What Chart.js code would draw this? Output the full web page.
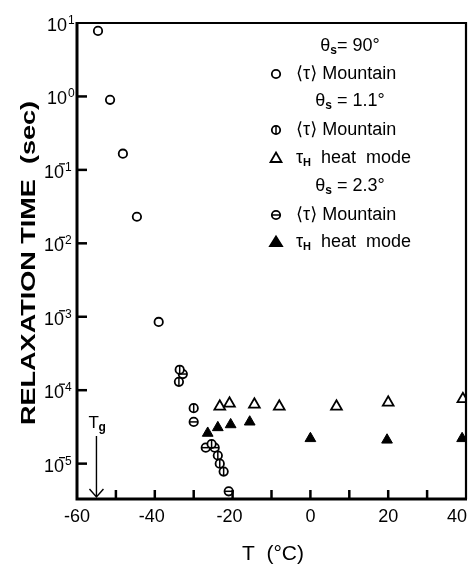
<!DOCTYPE html>
<html>
<head>
<meta charset="utf-8">
<title>Relaxation time vs T</title>
<script src="https://cdn.jsdelivr.net/npm/chart.js"></script>
<style>
  body { margin: 0; background: #fff; }
  #chart { display: block; }
</style>
</head>
<body>
<canvas id="chart" width="474" height="564"></canvas>
<script>
// theta_s = 90 deg, <tau> Mountain
var temp90 = [-54.6, -51.5, -48.2, -44.6, -39.0];
var tau90 = [7.8, 0.9, 0.166, 0.023, 8.5e-4];

// theta_s = 1.1 deg, <tau> Mountain
var temp11 = [-33.6, -33.8, -30.0, -25.4, -23.8, -23.3, -22.3];
var tau11 = [1.9e-4, 1.3e-4, 5.7e-5, 1.85e-5, 1.29e-5, 1.0e-5, 7.8e-6];
// theta_s = 1.1 deg, tau_H heat mode
var temp11H = [-23.3, -20.8, -14.4, -8.0, 6.7, 20.0, 39.2];
var tau11H = [6.0e-5, 6.6e-5, 6.4e-5, 6.0e-5, 6.0e-5, 6.8e-5, 7.6e-5];

// theta_s = 2.3 deg, <tau> Mountain
var temp23 = [-32.8, -30.0, -26.9, -24.6, -21.0];
var tau23 = [1.66e-4, 3.7e-5, 1.65e-5, 1.65e-5, 4.2e-6];
// theta_s = 2.3 deg, tau_H heat mode
var temp23H = [-26.4, -23.8, -20.5, -15.6, 0.0, 19.7, 39.0];
var tau23H = [2.6e-5, 3.1e-5, 3.4e-5, 3.7e-5, 2.2e-5, 2.1e-5, 2.2e-5];

var xLabels = [-60, -40, -20, 0, 20, 40];
var xTickMarks = [-50, -40, -30, -20, -10, 0, 10, 20, 30];
var yExponents = [1, 0, -1, -2, -3, -4, -5];
var glassTemp = -55;

var FONT = '"Liberation Sans", "DejaVu Sans", Arial, sans-serif';
var R = 4.2;

function pts(xs, ys) {
    return xs.map(function (x, i) { return { x: x, y: ys[i] }; });
}

function drawRuns(ctx, runs, x, y, align) {
    var total = 0;
    runs.forEach(function (r) { ctx.font = r.f; total += ctx.measureText(r.t).width; });
    var cx = align === 'center' ? x - total / 2 : x;
    ctx.textAlign = 'left';
    ctx.textBaseline = 'middle';
    runs.forEach(function (r) {
        ctx.font = r.f;
        ctx.fillText(r.t, cx, y + (r.dy || 0));
        cx += ctx.measureText(r.t).width;
    });
}

function legendCircle(ctx, x, y, bar) {
    ctx.fillStyle = '#fff';
    ctx.lineWidth = 1.8;
    ctx.beginPath(); ctx.arc(x, y, R, 0, Math.PI * 2); ctx.fill(); ctx.stroke();
    ctx.lineWidth = 1.5;
    ctx.beginPath();
    if (bar === 'v') { ctx.moveTo(x, y - R); ctx.lineTo(x, y + R); }
    if (bar === 'h') { ctx.moveTo(x - R, y); ctx.lineTo(x + R, y); }
    ctx.stroke();
}

var decor = {
    id: 'decor',
    afterDatasetsDraw: function (chart) {
        var ctx = chart.ctx;
        var a = chart.chartArea;
        var xs = chart.scales.x, ys = chart.scales.y;
        ctx.save();
        ctx.strokeStyle = '#000';
        ctx.fillStyle = '#000';
        ctx.lineCap = 'butt';

        // frame
        ctx.lineWidth = 2.2;
        ctx.beginPath();
        ctx.moveTo(a.left, a.top); ctx.lineTo(a.right, a.top); ctx.lineTo(a.right, a.bottom);
        ctx.stroke();
        ctx.lineWidth = 3;
        ctx.beginPath();
        ctx.moveTo(a.left, a.top - 1); ctx.lineTo(a.left, a.bottom); ctx.lineTo(a.right + 1, a.bottom);
        ctx.stroke();

        // inward ticks
        ctx.lineWidth = 2.5;
        xTickMarks.forEach(function (v) {
            var px = xs.getPixelForValue(v);
            ctx.beginPath(); ctx.moveTo(px, a.bottom); ctx.lineTo(px, a.bottom - 9); ctx.stroke();
        });
        yExponents.forEach(function (e) {
            if (e >= 1) return;
            var py = ys.getPixelForValue(Math.pow(10, e));
            ctx.beginPath(); ctx.moveTo(a.left, py); ctx.lineTo(a.left + 10, py); ctx.stroke();
        });

        // y tick labels 10^n
        yExponents.forEach(function (e) {
            var py = ys.getPixelForValue(Math.pow(10, e));
            var digit = String(Math.abs(e));
            ctx.textBaseline = 'alphabetic';
            var tenRight = e < 0 ? 64 : 67;
            ctx.font = '18px ' + FONT;
            ctx.textAlign = 'right';
            ctx.fillText('10', tenRight, py + 8);
            ctx.font = '12px ' + FONT;
            ctx.textAlign = 'left';
            ctx.fillText(digit, tenRight + 1, py + 1);
            if (e < 0) {
                ctx.lineWidth = 1.3;
                ctx.beginPath(); ctx.moveTo(tenRight - 5, py - 6); ctx.lineTo(tenRight + 1, py - 6); ctx.stroke();
            }
        });

        // x tick labels
        ctx.font = '18px ' + FONT;
        ctx.textBaseline = 'alphabetic';
        xLabels.forEach(function (v) {
            var px = xs.getPixelForValue(v);
            var digits = String(Math.abs(v));
            var w = ctx.measureText(digits).width;
            var shift = 0;
            if (v === -60) shift = 3;
            if (v === 40) shift = -9;
            ctx.textAlign = 'right';
            ctx.fillText((v < 0 ? '-' : '') + digits, px + w / 2 + shift, 522);
        });

        // axis titles
        ctx.font = '21px ' + FONT;
        ctx.textAlign = 'center';
        ctx.fillText('T  (°C)', 273, 560);

        ctx.save();
        ctx.translate(35, 263);
        ctx.rotate(-Math.PI / 2);
        ctx.font = 'bold 21px ' + FONT;
        var title = 'RELAXATION TIME  (sec)';
        var tw = ctx.measureText(title).width;
        ctx.scale(324 / tw, 1);
        ctx.textAlign = 'center';
        ctx.textBaseline = 'alphabetic';
        ctx.fillText(title, 0, 0);
        ctx.restore();

        // Tg arrow
        var gx = xs.getPixelForValue(glassTemp);
        ctx.lineWidth = 1.4;
        ctx.beginPath();
        ctx.moveTo(gx, 436); ctx.lineTo(gx, a.bottom - 2);
        ctx.moveTo(gx - 7, a.bottom - 10); ctx.lineTo(gx, a.bottom - 2); ctx.lineTo(gx + 7, a.bottom - 10);
        ctx.stroke();
        ctx.textAlign = 'left';
        ctx.font = '17px ' + FONT;
        ctx.fillText('T', gx - 8, 428);
        ctx.font = 'bold 12px ' + FONT;
        ctx.fillText('g', gx + 2, 431);

        // legend
        var big = '18px ' + FONT;
        var sub = 'bold 12px ' + FONT;
        var hx = 350, mx = 276, tx = 296;
        drawRuns(ctx, [{ t: 'θ', f: big }, { t: 's', f: sub, dy: 5 }, { t: '= 90°', f: big }], hx, 46, 'center');
        drawRuns(ctx, [{ t: 'θ', f: big }, { t: 's', f: sub, dy: 5 }, { t: ' = 1.1°', f: big }], hx, 101, 'center');
        drawRuns(ctx, [{ t: 'θ', f: big }, { t: 's', f: sub, dy: 5 }, { t: ' = 2.3°', f: big }], hx, 186, 'center');
        var mtn = [{ t: '⟨τ⟩ Mountain', f: big }];
        var heat = [{ t: 'τ', f: big }, { t: 'H', f: 'bold 11px ' + FONT, dy: 5 }, { t: '  heat  mode', f: big }];
        drawRuns(ctx, mtn, tx, 74, 'left');
        drawRuns(ctx, mtn, tx, 130, 'left');
        drawRuns(ctx, heat, tx, 158, 'left');
        drawRuns(ctx, mtn, tx, 215, 'left');
        drawRuns(ctx, heat, tx, 242, 'left');

        // legend markers
        legendCircle(ctx, mx, 74, null);
        legendCircle(ctx, mx, 130, 'v');
        legendCircle(ctx, mx, 215, 'h');
        ctx.lineWidth = 1.8;
        ctx.fillStyle = '#fff';
        ctx.beginPath(); ctx.moveTo(mx, 152.5); ctx.lineTo(mx + 5.5, 162); ctx.lineTo(mx - 5.5, 162); ctx.closePath(); ctx.fill(); ctx.stroke();
        ctx.fillStyle = '#000';
        ctx.beginPath(); ctx.moveTo(mx, 236.5); ctx.lineTo(mx + 6, 246); ctx.lineTo(mx - 6, 246); ctx.closePath(); ctx.fill(); ctx.stroke();

        ctx.restore();
    }
};

var circleStyle = { pointStyle: 'circle', pointRadius: R, borderColor: '#000', backgroundColor: '#fff', borderWidth: 1.8 };
var barStyle = { pointStyle: 'line', pointRadius: R, borderColor: '#000', borderWidth: 1.5 };

// lower index is painted on top, so each bar set comes before its circle set
var ctx = document.getElementById('chart').getContext('2d');
var chart = new Chart(ctx, {
    type: 'scatter',
    data: {
        datasets: [
            Object.assign({ label: 'θs=1.1° bar', data: pts(temp11, tau11), pointRotation: 90 }, barStyle),
            Object.assign({ label: 'θs=2.3° bar', data: pts(temp23, tau23), pointRotation: 0 }, barStyle),
            Object.assign({ label: 'θs=90° ⟨τ⟩ Mountain', data: pts(temp90, tau90) }, circleStyle),
            Object.assign({ label: 'θs=1.1° ⟨τ⟩ Mountain', data: pts(temp11, tau11) }, circleStyle),
            Object.assign({ label: 'θs=2.3° ⟨τ⟩ Mountain', data: pts(temp23, tau23) }, circleStyle),
            { label: 'θs=1.1° τH heat mode', data: pts(temp11H, tau11H), pointStyle: 'triangle', pointRadius: 6.2,
              borderColor: '#000', backgroundColor: '#fff', borderWidth: 1.8 },
            { label: 'θs=2.3° τH heat mode', data: pts(temp23H, tau23H), pointStyle: 'triangle', pointRadius: 6.2,
              borderColor: '#000', backgroundColor: '#000', borderWidth: 1 }
        ]
    },
    options: {
        responsive: false,
        animation: false,
        layout: { padding: { left: 77, right: 7, top: 23, bottom: 65 } },
        plugins: { legend: { display: false }, tooltip: { enabled: false } },
        scales: {
            x: { type: 'linear', min: -60, max: 40, display: false },
            y: { type: 'logarithmic', min: 3.3e-6, max: 10, display: false }
        }
    },
    plugins: [decor]
});
</script>
</body>
</html>
